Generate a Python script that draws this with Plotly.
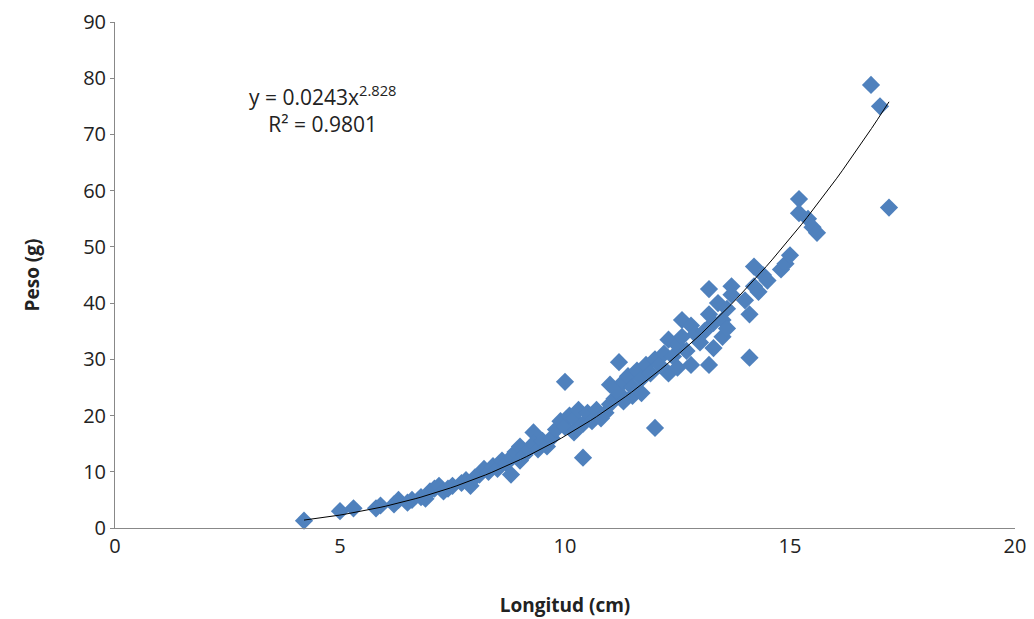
import plotly.graph_objects as go

longitud = [4.2,5.0,5.3,5.8,5.9,6.2,6.3,6.5,6.6,6.8,6.9,7.0,7.1,7.2,7.3,7.4,7.5,7.7,7.8,7.9,8.0,8.1,8.2,8.3,8.4,8.5,8.6,8.7,8.8,8.8,8.9,9.0,9.0,9.1,9.2,9.3,9.3,9.4,9.5,9.6,9.7,9.8,9.9,10.0,10.0,10.1,10.2,10.2,10.3,10.4,10.4,10.5,10.6,10.7,10.8,10.9,11.0,11.0,11.1,11.2,11.2,11.3,11.3,11.4,11.5,11.5,11.6,11.7,11.7,11.8,11.9,12.0,12.0,12.1,12.2,12.3,12.3,12.4,12.5,12.5,12.6,12.6,12.7,12.8,12.8,12.9,13.0,13.1,13.2,13.2,13.2,13.3,13.3,13.4,13.5,13.5,13.6,13.6,13.7,13.7,14.0,14.1,14.1,14.2,14.2,14.3,14.4,14.5,14.8,14.9,15.0,15.2,15.2,15.4,15.5,15.6,16.8,17.0,17.2]
peso = [1.3,3.0,3.5,3.5,4.0,4.2,5.0,4.5,5.0,5.5,5.2,6.5,7.0,7.5,6.5,7.0,7.5,8.0,8.5,7.5,9.0,9.5,10.5,10.0,11.0,10.5,12.0,11.5,9.5,12.5,13.5,14.5,12.0,13.0,14.0,17.0,15.0,14.0,15.5,14.5,16.0,17.5,19.0,18.0,26.0,20.0,19.5,17.0,21.0,12.5,18.5,20.5,19.0,21.0,19.5,20.5,22.0,25.5,23.0,29.5,24.0,26.0,22.5,27.0,25.0,23.5,28.0,26.5,24.0,29.0,27.5,17.8,30.0,29.0,31.0,27.5,33.5,30.5,32.5,28.5,34.0,37.0,31.5,36.0,29.0,34.5,33.0,35.0,42.5,29.0,38.0,32.0,36.5,40.0,37.0,34.0,39.0,35.5,43.0,41.5,40.5,30.3,38.0,46.5,43.0,42.0,45.0,44.0,46.0,47.0,48.5,58.5,56.0,55.0,53.5,52.5,78.8,75.0,57.0]

coef_a = 0.0243
coef_b = 2.828
trend_x = [4.2 + i * (17.2 - 4.2) / 100 for i in range(101)]
trend_y = [coef_a * x ** coef_b for x in trend_x]

fig = go.Figure()
fig.add_trace(go.Scatter(x=longitud, y=peso, mode="markers", cliponaxis=False,
                         marker=dict(symbol="diamond", size=14, color="#4F81BD"), showlegend=False))
fig.add_trace(go.Scatter(x=trend_x, y=trend_y, mode="lines",
                         line=dict(color="black", width=1), showlegend=False))

fnt = "Open Sans"
fig.update_layout(
    width=1026, height=611, plot_bgcolor="white", paper_bgcolor="white",
    margin=dict(l=107, r=19, t=14, b=91),
    font=dict(family=fnt, size=20, color="#222"),
    xaxis=dict(range=[0, 20], dtick=5, showgrid=False, zeroline=False, showline=True,
               linecolor="#888", ticks="", automargin=False,
               title=dict(text="<b>Longitud (cm)</b>", font=dict(size=19), standoff=40)),
    yaxis=dict(range=[0, 90], dtick=10, showgrid=False, zeroline=False, showline=True,
               linecolor="#888", ticks="outside", ticklen=4, tickcolor="#888", automargin=False,
               title=dict(text="<b>Peso (g)</b>", font=dict(size=19), standoff=38)),
    annotations=[dict(x=4.6, y=74.5, xref="x", yref="y", showarrow=False,
                      text="y = 0.0243x<sup>2.828</sup><br>R² = 0.9801", font=dict(size=21),
                      align="center")],
)
fig.write_html("out.html")
